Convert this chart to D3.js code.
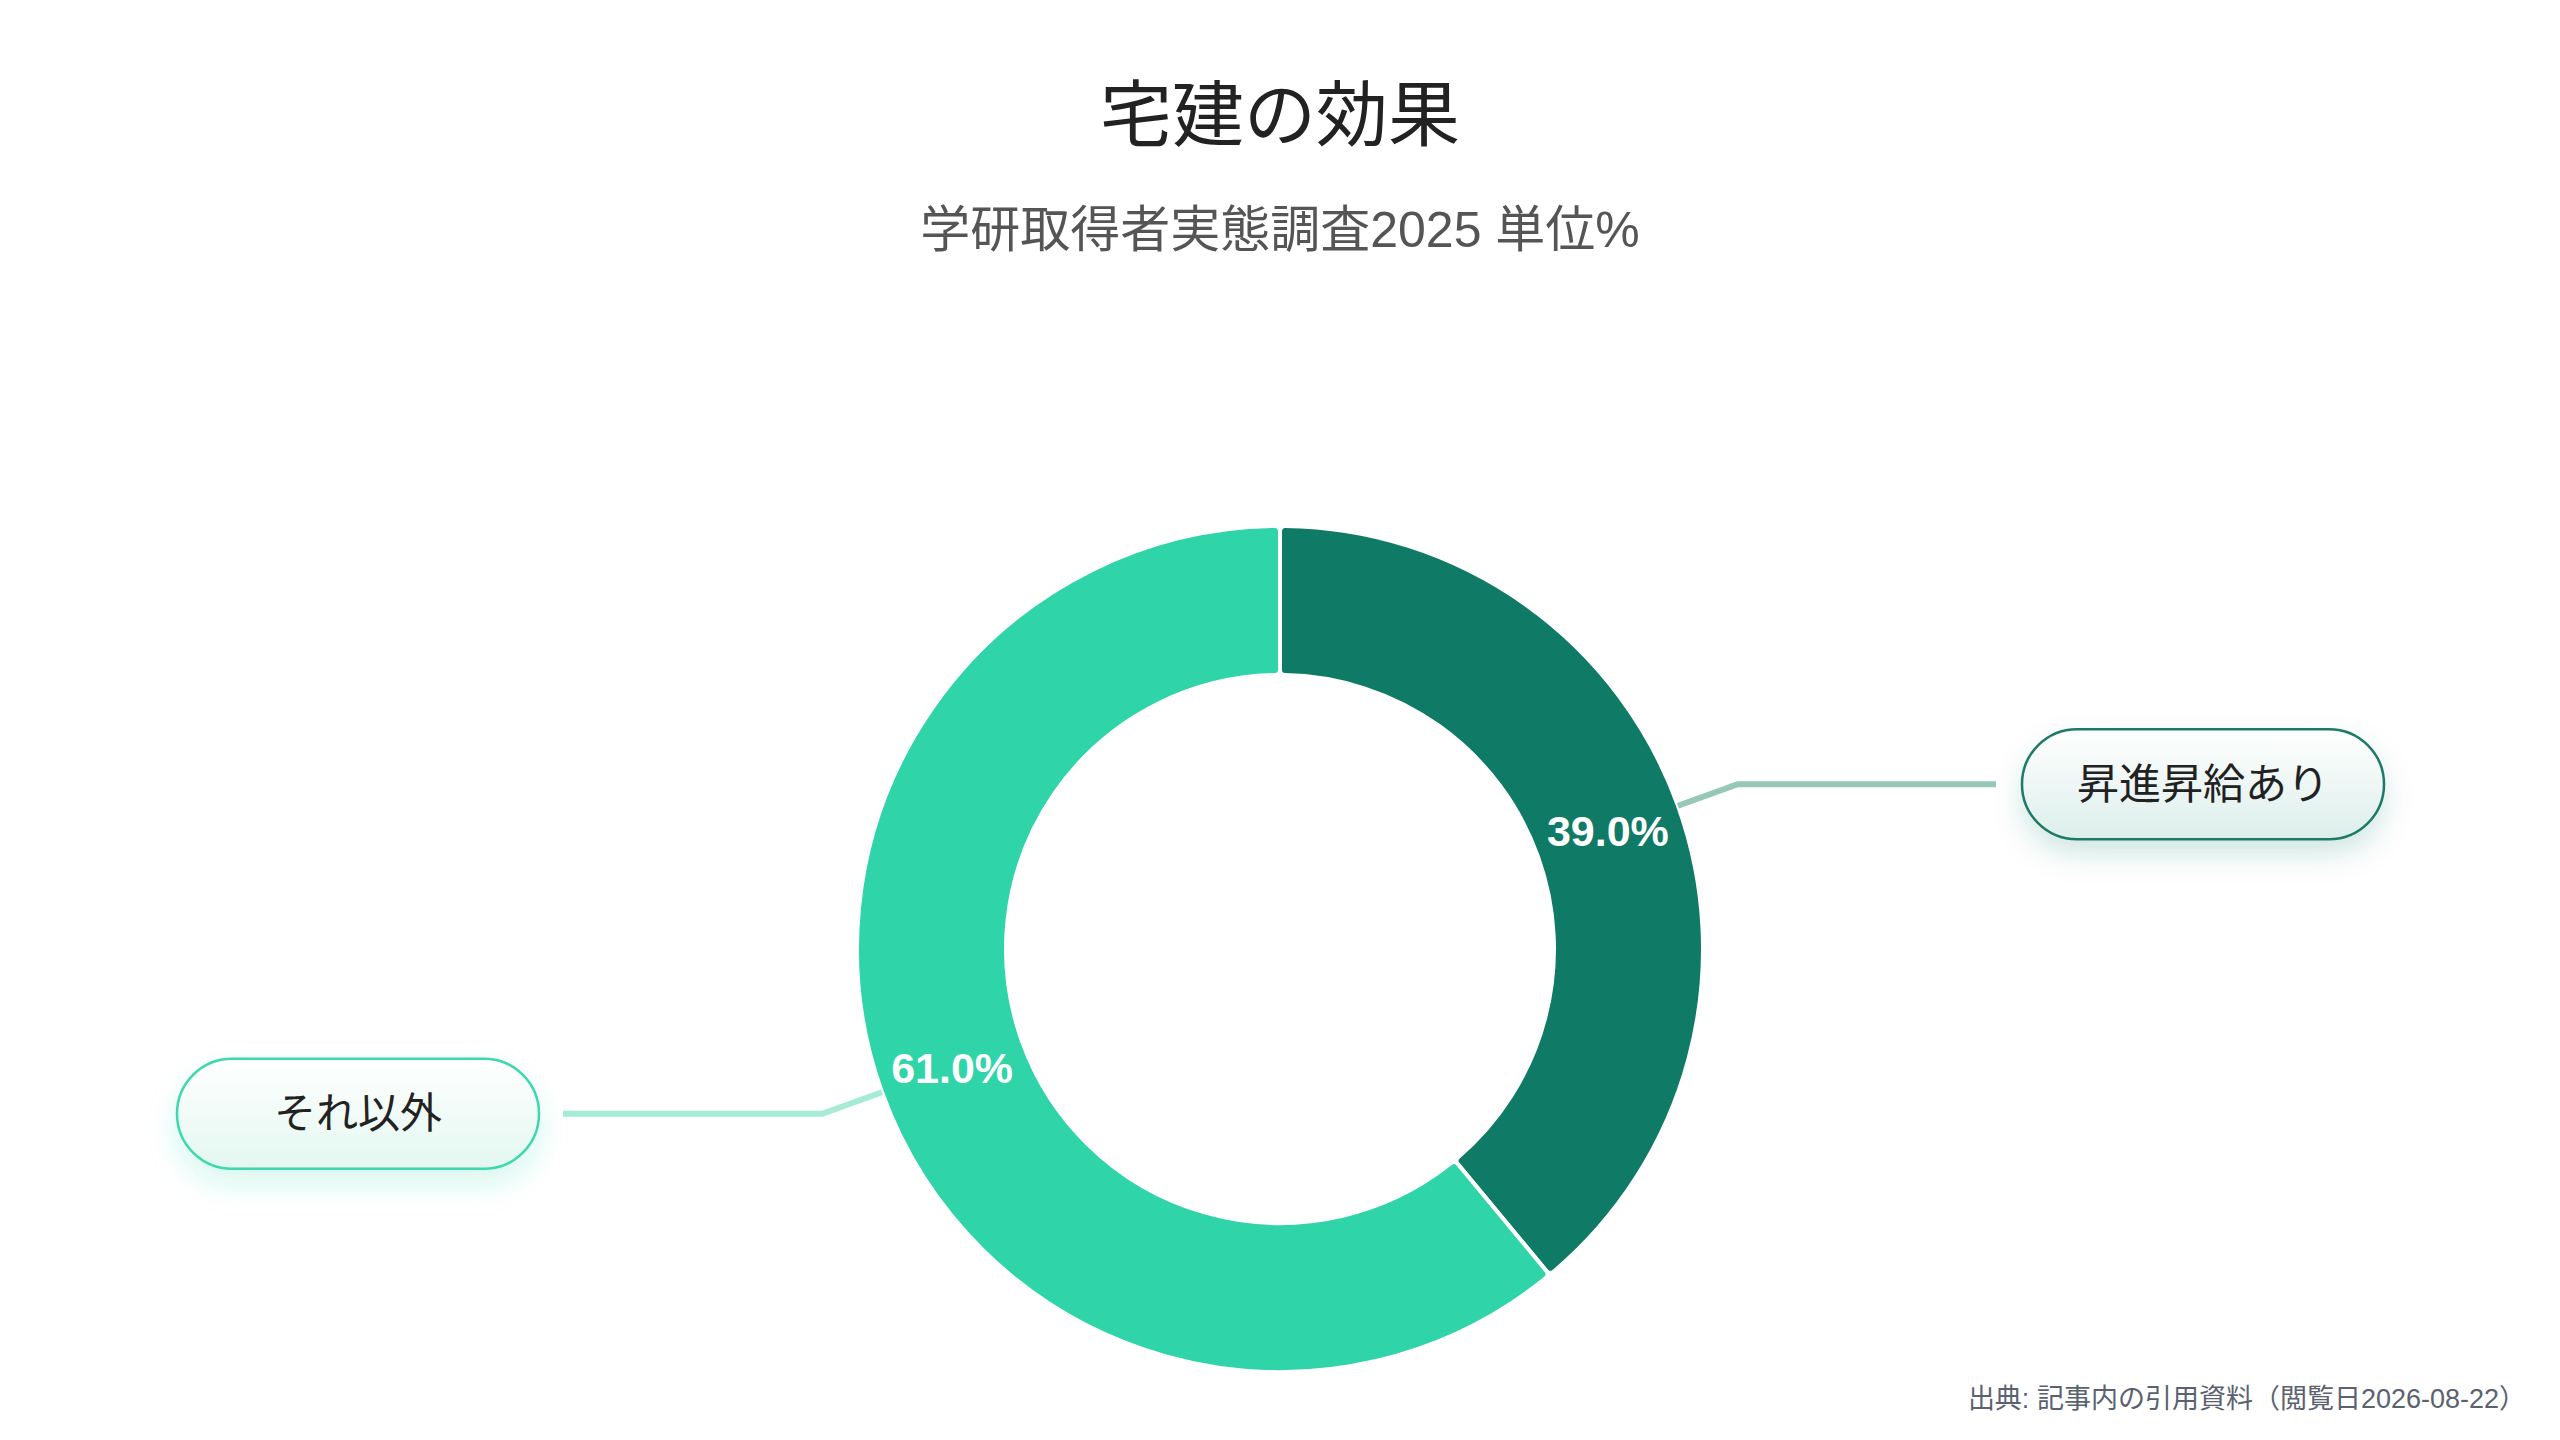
<!DOCTYPE html>
<html>
<head>
<meta charset="utf-8">
<script src="https://cdn.jsdelivr.net/npm/d3@7"></script>
<style>
  body { margin: 0; background: #fff; }
  svg { display: block; font-family: "Liberation Sans", "Noto Sans CJK JP", sans-serif; }
</style>
</head>
<body>
<div id="chart"></div>
<script>
// Data
const categories = ["昇進昇給あり", "それ以外"];
const values = [39.0, 61.0];
const colors = ["#0f7a65", "#2fd4a8"];
const lineColors = ["#97c8b6", "#a6ebd6"];
const pillStroke = ["#1a7a66", "#3cd8ad"];
const pillFill = ["#dcefeb", "#e3f7f0"];

const title = "宅建の効果";
const subtitle = "学研取得者実態調査2025 単位%";
const source = "出典: 記事内の引用資料（閲覧日2026-08-22）";

const W = 2560, H = 1440;
const cx = 1280, cy = 949;
const outerR = 423, innerR = 274;

const svg = d3.select("#chart")
    .append("svg")
    .attr("width", W)
    .attr("height", H);

const defs = svg.append("defs");

// Pill gradients and shadows
categories.forEach((c, i) => {
    const g = defs.append("linearGradient")
        .attr("id", `pillGrad${i}`)
        .attr("x1", 0).attr("y1", 0).attr("x2", 0).attr("y2", 1);
    g.append("stop").attr("offset", "0%").attr("stop-color", "#ffffff");
    g.append("stop").attr("offset", "100%").attr("stop-color", pillFill[i]);

    const f = defs.append("filter")
        .attr("id", `pillShadow${i}`)
        .attr("x", "-30%").attr("y", "-50%")
        .attr("width", "160%").attr("height", "220%");
    f.append("feDropShadow")
        .attr("dx", 0).attr("dy", 14)
        .attr("stdDeviation", 14)
        .attr("flood-color", colors[i])
        .attr("flood-opacity", 0.18);
});

// Titles
svg.append("text")
    .attr("x", W / 2)
    .attr("y", 140)
    .attr("text-anchor", "middle")
    .style("font-size", "72px")
    .style("font-family", "'Noto Sans CJK JP', sans-serif")
    .attr("fill", "#222")
    .text(title);

svg.append("text")
    .attr("x", W / 2)
    .attr("y", 247)
    .attr("text-anchor", "middle")
    .style("font-size", "50px")
    .attr("fill", "#555")
    .text(subtitle);

// Donut
const pie = d3.pie().sort(null).value(d => d);
const arcs = pie(values);

const arc = d3.arc()
    .innerRadius(innerR)
    .outerRadius(outerR)
    .cornerRadius(5);

const g = svg.append("g")
    .attr("transform", `translate(${cx},${cy})`);

g.selectAll(".slice")
    .data(arcs)
    .enter().append("path")
    .attr("class", "slice")
    .attr("d", arc)
    .attr("fill", (d, i) => colors[i])
    .attr("stroke", "#fff")
    .attr("stroke-width", 4);

// Percent labels
const labelArc = d3.arc()
    .innerRadius((innerR + outerR) / 2)
    .outerRadius((innerR + outerR) / 2);

g.selectAll(".pct")
    .data(arcs)
    .enter().append("text")
    .attr("class", "pct")
    .attr("transform", d => `translate(${labelArc.centroid(d)})`)
    .attr("text-anchor", "middle")
    .attr("dy", "0.36em")
    .style("font-size", "43px")
    .style("font-weight", "bold")
    .attr("fill", "#fff")
    .text(d => d3.format(".1f")(d.data) + "%");

// Leader lines and pill labels
const pillW = 362, pillH = 110;
arcs.forEach((d, i) => {
    const mid = (d.startAngle + d.endAngle) / 2;
    const right = Math.sin(mid) > 0;
    const p0 = [Math.sin(mid) * outerR, -Math.cos(mid) * outerR];
    const p1 = [Math.sin(mid) * outerR * 1.15, -Math.cos(mid) * outerR * 1.15];
    const endX = right ? 716 : -717;
    const p2 = [endX, p1[1]];

    g.append("polyline")
        .attr("points", [p0, p1, p2].map(p => p.join(",")).join(" "))
        .attr("fill", "none")
        .attr("stroke", lineColors[i])
        .attr("stroke-width", 6);

    const px = right ? endX + 26 : endX - 24 - pillW;
    const py = p1[1] - pillH / 2;

    g.append("rect")
        .attr("x", px)
        .attr("y", py)
        .attr("width", pillW)
        .attr("height", pillH)
        .attr("rx", pillH / 2)
        .attr("fill", `url(#pillGrad${i})`)
        .attr("stroke", pillStroke[i])
        .attr("stroke-width", 2.5)
        .attr("filter", `url(#pillShadow${i})`);

    g.append("text")
        .attr("x", px + pillW / 2)
        .attr("y", p1[1])
        .attr("dy", "0.35em")
        .attr("text-anchor", "middle")
        .style("font-size", "42px")
        .style("font-family", "'Noto Sans CJK JP', sans-serif")
        .attr("fill", "#222")
        .text(categories[i]);
});

// Source
svg.append("text")
    .attr("x", 2526)
    .attr("y", 1408)
    .attr("text-anchor", "end")
    .style("font-size", "27px")
    .attr("fill", "#5a6270")
    .text(source);
</script>
</body>
</html>
